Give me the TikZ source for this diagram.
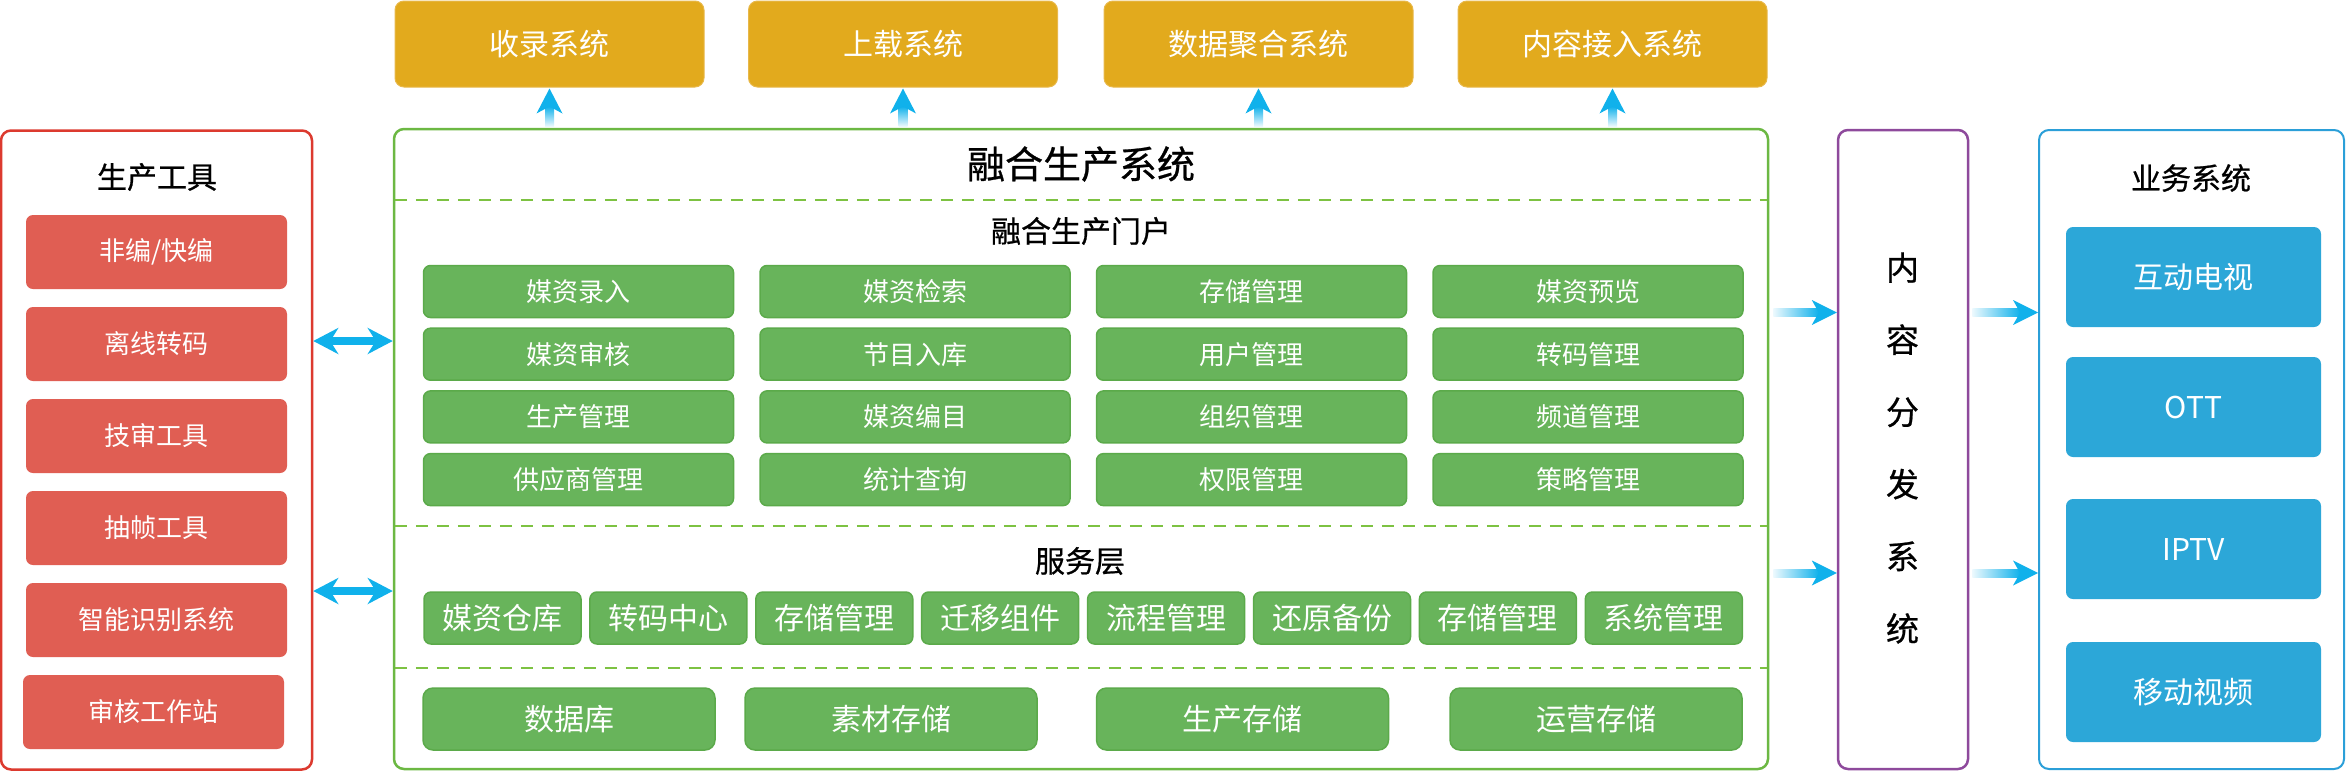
\documentclass[tikz,border=0pt]{standalone}
\usepackage{fontspec}
\setmainfont{Noto Sans CJK SC}
\newfontfamily\headfont[FakeBold=0.7]{Noto Sans CJK SC}
\usetikzlibrary{arrows.meta,calc}
\definecolor{gold}{HTML}{E2AA1D}
\definecolor{goldedge}{HTML}{E8B84A}
\definecolor{redfill}{HTML}{E05E53}
\definecolor{redframe}{HTML}{DC3A2F}
\definecolor{greenfill}{HTML}{68B45B}
\definecolor{greenedge}{HTML}{5BAA4A}
\definecolor{greenframe}{HTML}{6CB843}
\definecolor{dashgreen}{HTML}{7DC242}
\definecolor{purpleframe}{HTML}{8E4A9C}
\definecolor{blueframe}{HTML}{2B9FD8}
\definecolor{bluefill}{HTML}{2CA7D8}
\definecolor{acyan}{HTML}{10B1EB}
\newcommand\hgradarrow[2]{%
  \shade[left color=acyan!8, right color=acyan] ($(#1)+(0,-4)$) rectangle ($(#2)+(-18,4)$);
  \fill[acyan] (#2) -- ($(#2)+(-25,-12.5)$) -- ($(#2)+(-18,0)$) -- ($(#2)+(-25,12.5)$) -- cycle;}
\newcommand\vgradarrow[2]{%
  \shade[bottom color=acyan!8, top color=acyan] ($(#1)+(-4.5,0)$) rectangle ($(#2)+(4.5,18)$);
  \fill[acyan] (#2) -- ($(#2)+(-13,25)$) -- ($(#2)+(0,18)$) -- ($(#2)+(13,25)$) -- cycle;}
\begin{document}
\begin{tikzpicture}[x=1pt,y=-1pt,
  frame/.style={draw, line width=2.5pt, rounded corners=10pt, fill=white, inner sep=0pt},
  title/.style={text=black, inner sep=0pt, font=\headfont\fontsize{30}{36}\selectfont},
  redbox/.style={fill=redfill, rounded corners=7pt, text=white, inner sep=0pt,
    minimum width=261pt, minimum height=74pt, font=\fontsize{26}{30}\selectfont},
  goldbox/.style={fill=gold, draw=goldedge, line width=1pt, rounded corners=9pt, text=white, inner sep=0pt,
    minimum width=309pt, minimum height=86pt, font=\fontsize{30}{34}\selectfont},
  gbox/.style={fill=greenfill, draw=greenedge, line width=1.5pt, rounded corners=7pt, text=white, inner sep=0pt,
    minimum height=52pt, font=\fontsize{26}{30}\selectfont},
  sbox/.style={gbox, minimum width=157pt, font=\fontsize{30}{34}\selectfont},
  bbox/.style={gbox, minimum width=292pt, minimum height=62pt, rounded corners=10pt, font=\fontsize{30}{34}\selectfont},
  bluebox/.style={fill=bluefill, rounded corners=7pt, text=white, inner sep=0pt,
    minimum width=255pt, minimum height=100pt, font=\fontsize{30}{34}\selectfont},
  dashline/.style={draw=dashgreen, line width=2pt, dash pattern=on 12pt off 9pt},
  dbl/.style={draw=acyan, line width=8pt, {Stealth[length=25pt,width=26pt,inset=8pt]}-{Stealth[length=25pt,width=26pt,inset=8pt]}}
]
\useasboundingbox (0,0) rectangle (2347,772);

% left frame
\node[frame, draw=redframe, minimum width=311pt, minimum height=639pt] (left) at (156.5,450) {};
\node[title] (lt) at (157,177) {生产工具};
\node[redbox] (r1) at (156.5,252) {非编/快编};
\node[redbox] (r2) at (156.5,344) {离线转码};
\node[redbox] (r3) at (156.5,436) {技审工具};
\node[redbox] (r4) at (156.5,528) {抽帧工具};
\node[redbox] (r5) at (156.5,620) {智能识别系统};
\node[redbox] (r6) at (153.5,712) {审核工作站};

% main frame
\node[frame, draw=greenframe, minimum width=1374pt, minimum height=640pt] (main) at (1081,449) {};
\node[title, font=\headfont\fontsize{38}{44}\selectfont] (mt) at (1081,164) {融合生产系统};
\coordinate (d1) at (0,200);
\coordinate (d2) at (0,526);
\coordinate (d3) at (0,668);
\draw[dashline] ($(main.west |- d1)+(2,0)$) -- ($(main.east |- d1)+(-2,0)$);
\draw[dashline] ($(main.west |- d2)+(2,0)$) -- ($(main.east |- d2)+(-2,0)$);
\draw[dashline] ($(main.west |- d3)+(2,0)$) -- ($(main.east |- d3)+(-2,0)$);
\node[title] (pt) at (1081,231) {融合生产门户};
\foreach \lab [count=\i from 0] in {媒资录入,媒资检索,存储管理,媒资预览,媒资审核,节目入库,用户管理,转码管理,生产管理,媒资编目,组织管理,频道管理,供应商管理,统计查询,权限管理,策略管理}{
  \pgfmathtruncatemacro\col{mod(\i,4)}
  \pgfmathtruncatemacro\row{int(\i/4)}
  \node[gbox, minimum width=310pt] (p\i) at ({578.5+336.5*\col},{291.5+62.7*\row}) {\lab};
}
\node[title] (st) at (1080,561) {服务层};
\foreach \lab [count=\i from 0] in {媒资仓库,转码中心,存储管理,迁移组件,流程管理,还原备份,存储管理,系统管理}{
  \node[sbox] (s\i) at ({502.5+165.9*\i},618) {\lab};
}
\node[bbox] (b1) at (569,719) {数据库};
\node[bbox] (b2) at (891,719) {素材存储};
\node[bbox] (b3) at (1242.5,719) {生产存储};
\node[bbox] (b4) at (1596,719) {运营存储};

% top gold boxes
\node[goldbox] (g1) at (549.5,44) {收录系统};
\node[goldbox] (g2) at (903,44) {上载系统};
\node[goldbox] (g3) at (1258.5,44) {数据聚合系统};
\node[goldbox] (g4) at (1612.5,44) {内容接入系统};

% purple
\node[frame, draw=purpleframe, minimum width=130pt, minimum height=639pt] (dist) at (1903,449.5) {};
\node[text=black, inner sep=0pt, align=center, font=\headfont\fontsize{33}{72.2}\selectfont] (dt) at (1902.5,448) {内\\容\\分\\发\\系\\统};

% blue
\node[frame, draw=blueframe, line width=2pt, minimum width=305pt, minimum height=639pt] (biz) at (2191.5,449.5) {};
\node[title] (bt) at (2191,178) {业务系统};
\node[bluebox] (u1) at (2193.5,277) {互动电视};
\node[bluebox] (u2) at (2193.5,407) {OTT};
\node[bluebox] (u3) at (2193.5,549) {IPTV};
\node[bluebox] (u4) at (2193.5,692) {移动视频};

% double arrows
\coordinate (ya) at (0,341);
\coordinate (yb) at (0,591);
\draw[dbl] (left.east |- ya) -- (main.west |- ya);
\draw[dbl] (left.east |- yb) -- (main.west |- yb);

% up arrows
\foreach \g in {g1,g2,g3,g4}{
  \coordinate (tail\g) at ($(\g.south |- main.north)+(0,-1.5)$);
  \coordinate (tip\g) at ($(\g.south)+(0,1)$);
  \vgradarrow{tail\g}{tip\g}
}

% right arrows
\coordinate (yc) at (0,312.5);
\coordinate (yd) at (0,573);
\coordinate (t1) at ($(main.east |- yc)+(4,0)$);
\coordinate (h1) at (dist.west |- yc);
\coordinate (t2) at ($(main.east |- yd)+(4,0)$);
\coordinate (h2) at (dist.west |- yd);
\coordinate (t3) at ($(dist.east |- yc)+(3,0)$);
\coordinate (h3) at (biz.west |- yc);
\coordinate (t4) at ($(dist.east |- yd)+(3,0)$);
\coordinate (h4) at (biz.west |- yd);
\hgradarrow{t1}{h1}
\hgradarrow{t2}{h2}
\hgradarrow{t3}{h3}
\hgradarrow{t4}{h4}
\end{tikzpicture}
\end{document}
